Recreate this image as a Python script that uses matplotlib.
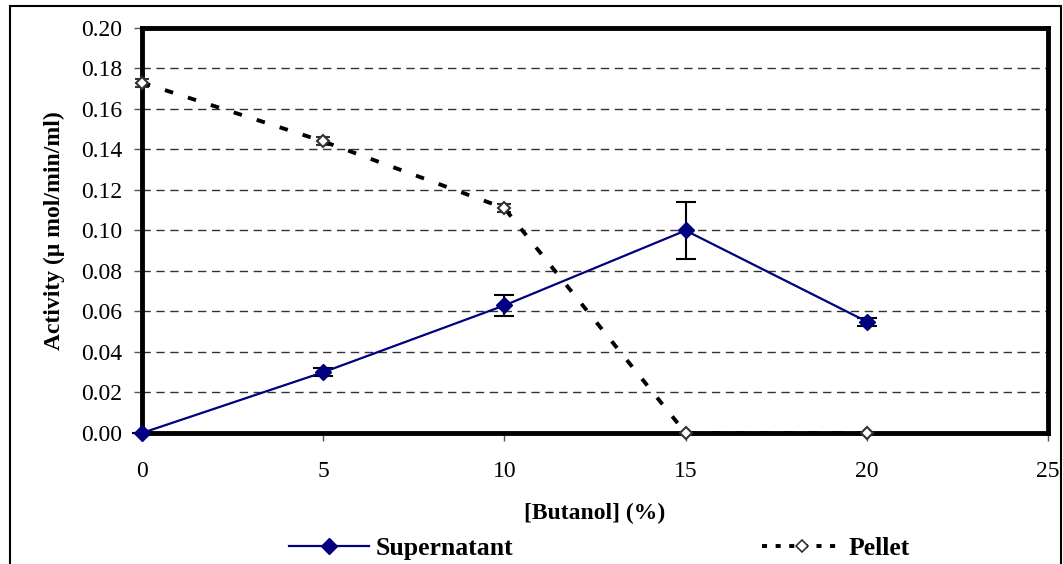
import numpy as np
import matplotlib
matplotlib.use("Agg")
import matplotlib.pyplot as plt
from matplotlib.patches import Rectangle
from matplotlib.lines import Line2D

plt.rcParams["font.family"] = ["Liberation Serif", "DejaVu Serif"]

# butanol concentration (%) and enzyme activity (umol/min/ml)
butanol = [0, 5, 10, 15, 20]
supernatant = [0.000, 0.030, 0.063, 0.100, 0.055]
supernatant_err = [0.000, 0.002, 0.005, 0.014, 0.002]
pellet = [0.173, 0.144, 0.111, 0.000, 0.000]
pellet_err = [0.002, 0.002, 0.002, 0.000, 0.000]

navy = "#000080"
pellet_dash = (0, (2.2, 4.0))

fig = plt.figure(figsize=(10.63, 5.64), dpi=100)
ax = fig.add_axes([0.1336, 0.2323, 0.8523, 0.7181])

# outer chart frame
fig.patches.append(Rectangle((0.009, -0.05), 0.989, 1.04, transform=fig.transFigure,
                             fill=False, edgecolor="black", linewidth=1.5))

ax.errorbar(butanol, supernatant, yerr=supernatant_err, color=navy, lw=1.6,
            marker="D", markersize=8, markerfacecolor=navy, markeredgecolor=navy,
            ecolor="black", elinewidth=1.5, capsize=7, capthick=1.5,
            zorder=4, clip_on=False)
ax.errorbar(butanol, pellet, yerr=pellet_err, color="black", lw=2.8, ls=pellet_dash,
            marker="D", markersize=6, markerfacecolor="white", markeredgecolor="#333333",
            markeredgewidth=1.5, ecolor="#333333", elinewidth=1.5, capsize=5, capthick=1.5,
            zorder=3, clip_on=False)

ax.set_xlim(0, 25)
ax.set_ylim(0, 0.20)
ax.set_xticks(np.arange(0, 26, 5))
yticks = np.arange(0, 0.201, 0.02)
ax.set_yticks(yticks)
ax.set_yticklabels([f"{v:.2f}" for v in yticks])
ax.yaxis.grid(True, ls=(0, (6, 4)), color="#333333", lw=1)
ax.set_axisbelow(True)

for side in ["left", "bottom", "top", "right"]:
    ax.spines[side].set_linewidth(3.5)
ax.tick_params(direction="out", length=6, width=1, labelsize=17, color="#555555")
ax.tick_params(axis="x", pad=14)
ax.tick_params(axis="y", pad=8)

ax.set_xlabel("[Butanol] (%)", fontsize=17, fontweight="bold", labelpad=15)
ax.set_ylabel("Activity (μ mol/min/ml)", fontsize=17, fontweight="bold", labelpad=12)

handles = [
    Line2D([], [], color=navy, lw=1.6, marker="D", markersize=8,
           markerfacecolor=navy, markeredgecolor=navy),
    Line2D([], [], color="black", lw=2.8, ls=(0, (1.3, 2.2)), marker="D", markersize=6,
           markerfacecolor="white", markeredgecolor="#333333", markeredgewidth=1.2),
]
fig.legend(handles, ["Supernatant", "Pellet"], loc="center",
           bbox_to_anchor=(0.564, 0.028), ncol=2, frameon=False,
           prop={"weight": "bold", "size": 18.5}, handlelength=3.1, handletextpad=0.25,
           columnspacing=9.7)

fig.savefig("out.png", dpi=100)
